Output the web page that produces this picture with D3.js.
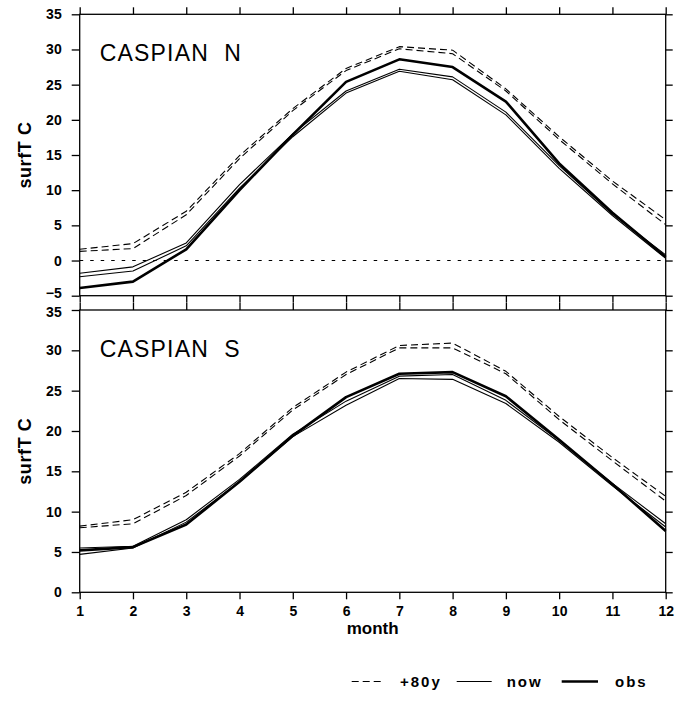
<!DOCTYPE html>
<html>
<head>
<meta charset="utf-8">
<script src="https://cdn.jsdelivr.net/npm/d3@7"></script>
<style>
  body { margin: 0; background: #fff; }
  svg { display: block; }
  text { font-family: "Liberation Sans", Arial, sans-serif; fill: #000; }
</style>
</head>
<body>
<div id="chart"></div>
<script>
// months on the x axis
const months = [1, 2, 3, 4, 5, 6, 7, 8, 9, 10, 11, 12];

// CASPIAN N (surface temperature, C)
const northP80a = [1.6, 2.4, 7.0, 14.9, 21.6, 27.3, 30.4, 29.9, 24.4, 17.6, 11.3, 5.8];
const northP80b = [1.3, 1.7, 6.5, 14.5, 21.3, 27.0, 30.1, 29.4, 24.1, 17.2, 10.9, 5.1];
const northNowA = [-1.8, -0.9, 2.5, 10.8, 18.0, 24.1, 27.2, 26.1, 21.1, 13.5, 6.6, 0.8];
const northNowB = [-2.3, -1.5, 2.1, 10.3, 17.6, 23.8, 26.9, 25.7, 20.7, 13.1, 6.4, 0.3];
const northObs = [-3.9, -3.0, 1.6, 10.0, 17.9, 25.4, 28.6, 27.5, 22.6, 13.8, 6.8, 0.5];

// CASPIAN S
const southP80a = [8.2, 9.0, 12.4, 17.2, 22.9, 27.3, 30.6, 30.9, 27.4, 21.8, 16.7, 11.9];
const southP80b = [8.0, 8.5, 12.0, 16.9, 22.6, 27.0, 30.3, 30.3, 27.1, 21.4, 16.3, 11.3];
const southNowA = [5.5, 5.7, 9.0, 14.0, 19.6, 23.7, 26.8, 27.0, 23.8, 18.8, 13.5, 8.5];
const southNowB = [4.7, 5.5, 8.7, 13.7, 19.3, 23.2, 26.5, 26.4, 23.4, 18.6, 13.2, 8.1];
const southObs = [5.2, 5.6, 8.4, 13.7, 19.4, 24.2, 27.1, 27.3, 24.3, 18.9, 13.4, 7.6];

// y ticks of each panel
const northTicks = [-5, 0, 5, 10, 15, 20, 25, 30, 35];
const southTicks = [0, 5, 10, 15, 20, 25, 30, 35];

// legend
const legendLabels = ['+80y', 'now', 'obs'];
const legendKinds = ['p80', 'now', 'obs'];

const width = 677, height = 704;
const left = 79.7, right = 665.7;

// line styles per kind
const styles = {
    p80: { width: 1.1, dash: '7,4' },
    now: { width: 1.1, dash: null },
    obs: { width: 2.6, dash: null }
};

const svg = d3.select('#chart').append('svg')
    .attr('width', width)
    .attr('height', height);

const x = d3.scaleLinear().domain([1, 12]).range([left, right]);

const panels = [
    {
        title: 'CASPIAN  N', top: 14.3, bottom: 295.7, domain: [-5, 35], ticks: northTicks, zero: true,
        series: [['p80', northP80a], ['p80', northP80b], ['now', northNowA], ['now', northNowB], ['obs', northObs]]
    },
    {
        title: 'CASPIAN  S', top: 310, bottom: 592.3, domain: [0, 35], ticks: southTicks, zero: false,
        series: [['p80', southP80a], ['p80', southP80b], ['now', southNowA], ['now', southNowB], ['obs', southObs]]
    }
];

panels.forEach((p, i) => {
    const y = d3.scaleLinear().domain(p.domain).range([p.bottom, p.top]);
    const g = svg.append('g');

    // ticks outside the frame
    const tickLen = 7;
    g.append('g')
        .attr('transform', `translate(0,${p.top})`)
        .call(d3.axisTop(x).tickValues(months).tickSize(tickLen).tickFormat(''));
    const bottomAxis = g.append('g')
        .attr('transform', `translate(0,${p.bottom})`)
        .call(d3.axisBottom(x).tickValues(months).tickSize(tickLen).tickPadding(5)
            .tickFormat(i === 1 ? d3.format('d') : ''));
    const leftAxis = g.append('g')
        .attr('transform', `translate(${left},0)`)
        .call(d3.axisLeft(y).tickValues(p.ticks).tickSize(8).tickPadding(10).tickFormat(d3.format('d')));
    g.append('g')
        .attr('transform', `translate(${right},0)`)
        .call(d3.axisRight(y).tickValues(p.ticks).tickSize(7).tickFormat(''));

    g.selectAll('.domain').remove();
    g.selectAll('.tick line').attr('stroke', '#000').attr('stroke-width', 1.3);
    g.selectAll('.tick text')
        .style('font-size', '14px')
        .style('font-weight', 'bold')
        .attr('fill', '#000');
    bottomAxis.selectAll('.tick text').attr('dy', '0.85em');

    // -5 and 35 sit at the join of the panels: nudge them apart
    leftAxis.selectAll('.tick text')
        .filter(d => (i === 0 && d === -5) || (i === 1 && d === 35))
        .attr('y', i === 0 ? -2.5 : 2);

    // frame
    g.append('rect')
        .attr('x', left).attr('y', p.top)
        .attr('width', right - left).attr('height', p.bottom - p.top)
        .attr('fill', 'none').attr('stroke', '#000').attr('stroke-width', 1.3);

    // zero line
    if (p.zero) {
        g.append('line')
            .attr('x1', left).attr('x2', right)
            .attr('y1', y(0)).attr('y2', y(0))
            .attr('stroke', '#000').attr('stroke-width', 1.1)
            .attr('stroke-dasharray', '3.5,7');
    }

    // series
    const line = d3.line().x((d, k) => x(months[k])).y(d => y(d));
    p.series.forEach(([kind, values]) => {
        g.append('path')
            .datum(values)
            .attr('d', line)
            .attr('fill', 'none')
            .attr('stroke', '#000')
            .attr('stroke-width', styles[kind].width)
            .attr('stroke-linejoin', 'round')
            .attr('stroke-dasharray', styles[kind].dash);
    });

    // panel title
    g.append('text')
        .attr('x', left + 20)
        .attr('y', p.top + 46.5)
        .style('white-space', 'pre')
        .style('font-size', '23px')
        .style('letter-spacing', '1.2px')
        .text(p.title);

    // y label
    g.append('text')
        .attr('transform', `translate(25,${(p.top + p.bottom) / 2}) rotate(-90)`)
        .attr('text-anchor', 'middle')
        .attr('dominant-baseline', 'central')
        .style('font-size', '18px')
        .style('font-weight', 'bold')
        .style('letter-spacing', '0.6px')
        .text('surfT C');
});

// x label
svg.append('text')
    .attr('x', x(6.5))
    .attr('y', 634)
    .attr('text-anchor', 'middle')
    .style('font-size', '17px')
    .style('font-weight', 'bold')
    .text('month');

// legend
const legendLines = [[351.7, 383], [456.7, 491.7], [561.7, 598]];
const legendText = [400, 506.7, 615];
legendKinds.forEach((kind, k) => {
    svg.append('line')
        .attr('x1', legendLines[k][0]).attr('x2', legendLines[k][1])
        .attr('y1', 681.5).attr('y2', 681.5)
        .attr('stroke', '#000')
        .attr('stroke-width', styles[kind].width)
        .attr('stroke-dasharray', styles[kind].dash);
    svg.append('text')
        .attr('x', legendText[k])
        .attr('y', 686.5)
        .style('font-size', '15px')
        .style('font-weight', 'bold')
        .style('letter-spacing', '2px')
        .text(legendLabels[k]);
});
</script>
</body>
</html>
